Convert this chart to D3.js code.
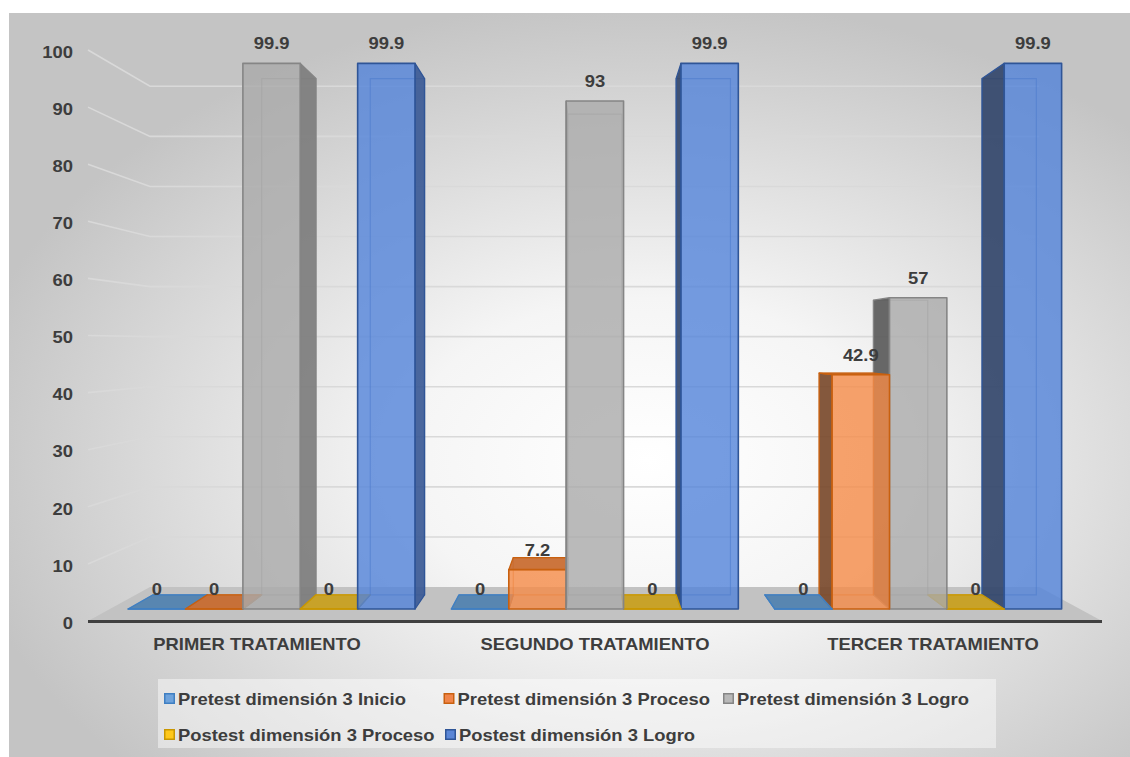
<!DOCTYPE html>
<html>
<head>
<meta charset="utf-8">
<script src="https://cdn.jsdelivr.net/npm/d3@7"></script>
<style>
  html, body { margin: 0; padding: 0; background: #ffffff; }
  svg { display: block; }
  text { font-family: "Liberation Sans", Arial, sans-serif; font-weight: bold; fill: #3d3d3d; }
</style>
</head>
<body>
<svg id="chart" width="1130" height="757"></svg>
<script>
// ---- data ----
const categories = ["PRIMER TRATAMIENTO", "SEGUNDO TRATAMIENTO", "TERCER TRATAMIENTO"];
const seriesNames = [
  "Pretest dimensión 3 Inicio",
  "Pretest dimensión 3 Proceso",
  "Pretest dimensión 3 Logro",
  "Postest dimensión 3 Proceso",
  "Postest dimensión 3 Logro"
];
const pretestInicio  = [0, 0, 0];
const pretestProceso = [0, 7.2, 42.9];
const pretestLogro   = [99.9, 93, 57];
const postestProceso = [0, 0, 0];
const postestLogro   = [99.9, 99.9, 99.9];
const yTicks = [0, 10, 20, 30, 40, 50, 60, 70, 80, 90, 100];

const seriesValues = [pretestInicio, pretestProceso, pretestLogro, postestProceso, postestLogro];

// ---- styles ----
const frontFill = ["#5b9bd5", "#f58b47", "#aaaaaa", "#ffc000", "#5283da"];
const edgeColor = ["#3f7fc2", "#c8600f", "#858585", "#c99700", "#2f5597"];
const topFill   = ["#4f81b0", "#c8692d", "#a3a3a3", "#c9a01c", "#4a74c0"];
const sideLeft  = ["#2d4f6e", "#7a4a2c", "#5b5b5b", "#8a6a10", "#33466b"];
const sideRight = ["#3b6d9a", "#a65a25", "#7d7d7d", "#b08a10", "#3b5a96"];
const legendFill = ["#6fa3dc", "#f0854a", "#b8b8b8", "#ffc81a", "#5b86d6"];
const TEXT_STRETCH = 1.15;

const svg = d3.select("#chart");
const defs = svg.append("defs");

// chart area background: soft radial gradient
const bg = defs.append("radialGradient").attr("id", "bgGrad")
  .attr("cx", "0.57").attr("cy", "0.6").attr("r", "0.62");
bg.append("stop").attr("offset", "0").attr("stop-color", "#ffffff");
bg.append("stop").attr("offset", "0.35").attr("stop-color", "#f5f5f5");
bg.append("stop").attr("offset", "1").attr("stop-color", "#c4c4c4");

svg.append("rect").attr("x", 9).attr("y", 13).attr("width", 1121).attr("height", 744)
  .attr("fill", "url(#bgGrad)");

// ---- scales ----
const x0 = d3.scaleBand().domain(categories).range([88, 1102]);
const x1 = d3.scaleBand().domain(seriesNames).range([0, x0.bandwidth()]).paddingOuter(0.317);
const y = d3.scaleLinear().domain([0, 100]).range([621, 50]);

// perspective: points recede toward a vanishing point as depth factor s shrinks
const VX = 592, VY = 345;
const S_FRONT = 0.9565, S_BACK = 0.905, S_WALL = 0.877;
const P = (xf, yf, s) => [VX + (xf - VX) * s, VY + (yf - VY) * s];
const poly = pts => "M" + pts.map(p => p.join(",")).join("L") + "Z";

// ---- walls and gridlines ----
const [xMin, xMax] = x0.range();
const grid = svg.append("g").attr("class", "grid");
yTicks.filter(t => t > 0).forEach(t => {
  const a = P(xMin, y(t), 1), b = P(xMin, y(t), S_WALL), c = P(xMax, y(t), S_WALL);
  grid.append("path")
    .attr("d", `M${a[0]},${a[1]}L${b[0]},${b[1]}L${c[0]},${c[1]}`)
    .attr("fill", "none").attr("stroke", "#d9d9d9").attr("stroke-width", 1.6);
});

// floor
svg.append("path")
  .attr("d", poly([P(xMin, y(0), 1), P(xMax, y(0), 1), P(xMax, y(0), S_WALL), P(xMin, y(0), S_WALL)]))
  .attr("fill", "#c2c2c2");

// ---- bars ----
const bars = [];
categories.forEach((cat, ci) => {
  seriesNames.forEach((name, si) => {
    const xl = x0(cat) + x1(name);
    const xr = xl + x1.bandwidth();
    bars.push({ ci, si, value: seriesValues[si][ci], xl, xr, cx: (xl + xr) / 2 });
  });
});
// paint farthest from the vanishing line first so nearer boxes overlap correctly
const drawOrder = bars.slice().sort((a, b) => Math.abs(b.cx - VX) - Math.abs(a.cx - VX));

const barLayer = svg.append("g").attr("class", "bars");
drawOrder.forEach(d => {
  const y0 = y(0), y1 = y(d.value);
  const FLB = P(d.xl, y0, S_FRONT), FRB = P(d.xr, y0, S_FRONT);
  const FLT = P(d.xl, y1, S_FRONT), FRT = P(d.xr, y1, S_FRONT);
  const BLB = P(d.xl, y0, S_BACK),  BRB = P(d.xr, y0, S_BACK);
  const BLT = P(d.xl, y1, S_BACK),  BRT = P(d.xr, y1, S_BACK);
  const g = barLayer.append("g");
  const edge = edgeColor[d.si];

  // hidden back edges, seen through the translucent front
  g.append("path")
    .attr("d", `M${BLB}L${BLT}L${BRT}L${BRB}ZM${BLB}L${FLB}`)
    .attr("fill", "none").attr("stroke", edge).attr("stroke-width", 1.2).attr("opacity", 0.55);

  // side face
  const leftSide = d.cx > VX;
  const side = leftSide ? [FLT, BLT, BLB, FLB] : [FRT, BRT, BRB, FRB];
  g.append("path").attr("d", poly(side))
    .attr("fill", leftSide ? sideLeft[d.si] : sideRight[d.si]).attr("fill-opacity", 0.92)
    .attr("stroke", edge).attr("stroke-width", 1.3).attr("stroke-linejoin", "round");

  // top face (only faces the viewer when below eye level)
  if (y1 > VY) {
    g.append("path").attr("d", poly([FLT, FRT, BRT, BLT]))
      .attr("fill", topFill[d.si]).attr("fill-opacity", 0.92)
      .attr("stroke", edge).attr("stroke-width", 1.3).attr("stroke-linejoin", "round");
  }

  // front face
  g.append("path").attr("d", poly([FLT, FRT, FRB, FLB]))
    .attr("fill", frontFill[d.si]).attr("fill-opacity", 0.8)
    .attr("stroke", edge).attr("stroke-width", 1.6).attr("stroke-linejoin", "round");
});

// category axis line
svg.append("line")
  .attr("x1", xMin).attr("x2", xMax).attr("y1", y(0) + 0.5).attr("y2", y(0) + 0.5)
  .attr("stroke", "#404040").attr("stroke-width", 3);

// ---- text helpers ----
const stretched = (sel, x, yy, anchor) =>
  sel.attr("transform", `translate(${x},${yy}) scale(${TEXT_STRETCH},1)`)
     .attr("text-anchor", anchor).style("font-size", "16px");

// value labels
const labels = svg.append("g").attr("class", "labels");
bars.forEach(d => {
  const top = P(d.cx, y(d.value), S_FRONT);
  stretched(labels.append("text").text(d3.format("~g")(d.value)), top[0], top[1] - 14, "middle");
});

// y axis (values)
const yAxis = svg.append("g").attr("transform", `translate(${xMin},0)`)
  .call(d3.axisLeft(y).tickValues(yTicks).tickSize(0).tickPadding(15).tickFormat(d3.format("d")));
yAxis.select(".domain").remove();
yAxis.selectAll("text")
  .attr("x", -15 / TEXT_STRETCH).attr("dy", "0.45em")
  .attr("transform", `scale(${TEXT_STRETCH},1)`)
  .style("font-size", "16px").attr("fill", "#3d3d3d");
yAxis.attr("font-family", null).attr("font-size", null);

// category labels
const xLabels = svg.append("g");
categories.forEach(cat => {
  stretched(xLabels.append("text").text(cat), x0(cat) + x0.bandwidth() / 2, 650, "middle");
});

// ---- legend ----
svg.append("rect").attr("x", 158).attr("y", 679).attr("width", 838).attr("height", 69)
  .attr("fill", "#ffffff").attr("fill-opacity", 0.45);
const legendSlots = [[164, 699], [443.5, 699], [723, 699], [164, 735], [445, 735]];
const legend = svg.append("g").attr("class", "legend");
seriesNames.forEach((name, i) => {
  const [lx, ly] = legendSlots[i];
  legend.append("rect").attr("x", lx + 0.75).attr("y", ly - 5.25).attr("width", 9.5).attr("height", 9.5)
    .attr("fill", legendFill[i]).attr("stroke", edgeColor[i]).attr("stroke-width", 1.5);
  stretched(legend.append("text").text(name), lx + 14, ly + 6, "start");
});
</script>
</body>
</html>
